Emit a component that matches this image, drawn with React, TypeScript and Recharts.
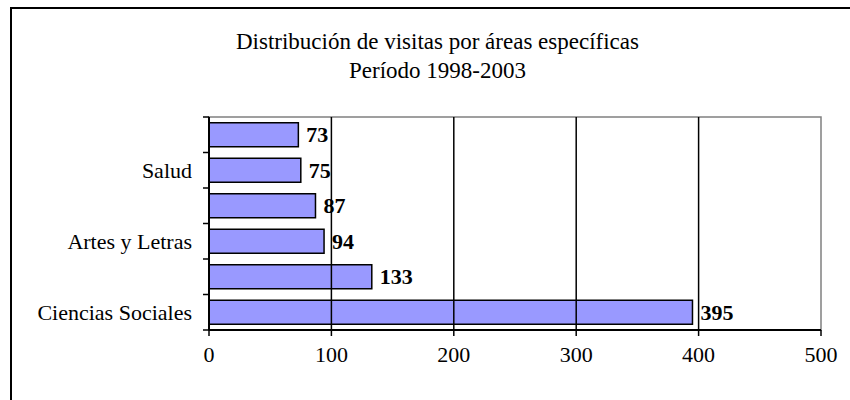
import { Bar, BarChart, LabelList, ReferenceArea, ReferenceLine, XAxis, YAxis } from "recharts"

// bottom-to-top, as in the original spreadsheet (only every other name is printed)
const categories = ["Ciencias Sociales", "Ciencias Naturales", "Artes y Letras", "Ingeniería", "Salud", "Educación"]
const visitas = [395, 133, 94, 87, 75, 73]
const xTicks = [0, 100, 200, 300, 400, 500]
const gridValues = [100, 200, 300, 400]

const data = categories.map((name, i) => ({ name, visitas: visitas[i] }))

const W = 850
const H = 400
const margin = { top: 117, right: 29, bottom: 30, left: 0 }
const Y_W = 209
const X_H = 40
const PLOT_H = H - margin.top - margin.bottom - X_H
const serif = '"Liberation Serif", "Times New Roman", serif'

function CategoryTick(props: any) {
  const { y, payload, index } = props
  const half = PLOT_H / categories.length / 2
  const ax = margin.left + Y_W
  return (
    <g>
      <line x1={ax - 6} x2={ax} y1={y - half} y2={y - half} stroke="#000" strokeWidth={1.5} />
      {index === 0 && <line x1={ax - 6} x2={ax} y1={y + half} y2={y + half} stroke="#000" strokeWidth={1.5} />}
      {index % 2 === 0 && (
        <text x={ax - 17} y={y} dy="0.35em" textAnchor="end" fontSize={22} fontFamily={serif} fill="#000">
          {payload.value}
        </text>
      )}
    </g>
  )
}

export default function App() {
  return (
    <div style={{ position: "absolute", left: 0, top: 0, width: W, height: H, overflow: "hidden", background: "#fff" }}>
      <div style={{ position: "absolute", left: 10, top: 7, width: 1000, height: 1000, border: "2px solid #000" }} />
      <div style={{ position: "absolute", left: 0, top: 27, width: 875, textAlign: "center", fontFamily: serif, fontSize: 23, lineHeight: "29px", color: "#000" }}>
        <div>Distribución de visitas por áreas específicas</div>
        <div>Período 1998-2003</div>
      </div>
      <div style={{ position: "absolute", left: 0, top: 0 }}>
        <BarChart width={W} height={H} data={data} layout="vertical" margin={margin} barCategoryGap="16%">
          <ReferenceArea x1={0} x2={500} fill="none" stroke="#808080" strokeWidth={1.5} />
          {gridValues.map((v) => (
            <ReferenceLine key={v} x={v} stroke="#000" strokeWidth={1.5} />
          ))}
          <XAxis
            type="number"
            domain={[0, 500]}
            ticks={xTicks}
            height={X_H}
            tickSize={6}
            tickMargin={10}
            axisLine={{ stroke: "#000", strokeWidth: 2 }}
            tickLine={{ stroke: "#000", strokeWidth: 1.5 }}
            tick={{ fill: "#000", fontSize: 22, fontFamily: serif }}
          />
          <YAxis
            type="category"
            dataKey="name"
            reversed
            width={Y_W}
            interval={0}
            tickLine={false}
            axisLine={{ stroke: "#000", strokeWidth: 2 }}
            tick={<CategoryTick />}
          />
          <Bar dataKey="visitas" fill="#9999ff" stroke="#000" strokeWidth={1.5} isAnimationActive={false}>
            <LabelList
              dataKey="visitas"
              position="right"
              offset={8}
              style={{ fill: "#000", fontWeight: "bold", fontSize: 22, fontFamily: serif }}
            />
          </Bar>
        </BarChart>
      </div>
    </div>
  )
}
